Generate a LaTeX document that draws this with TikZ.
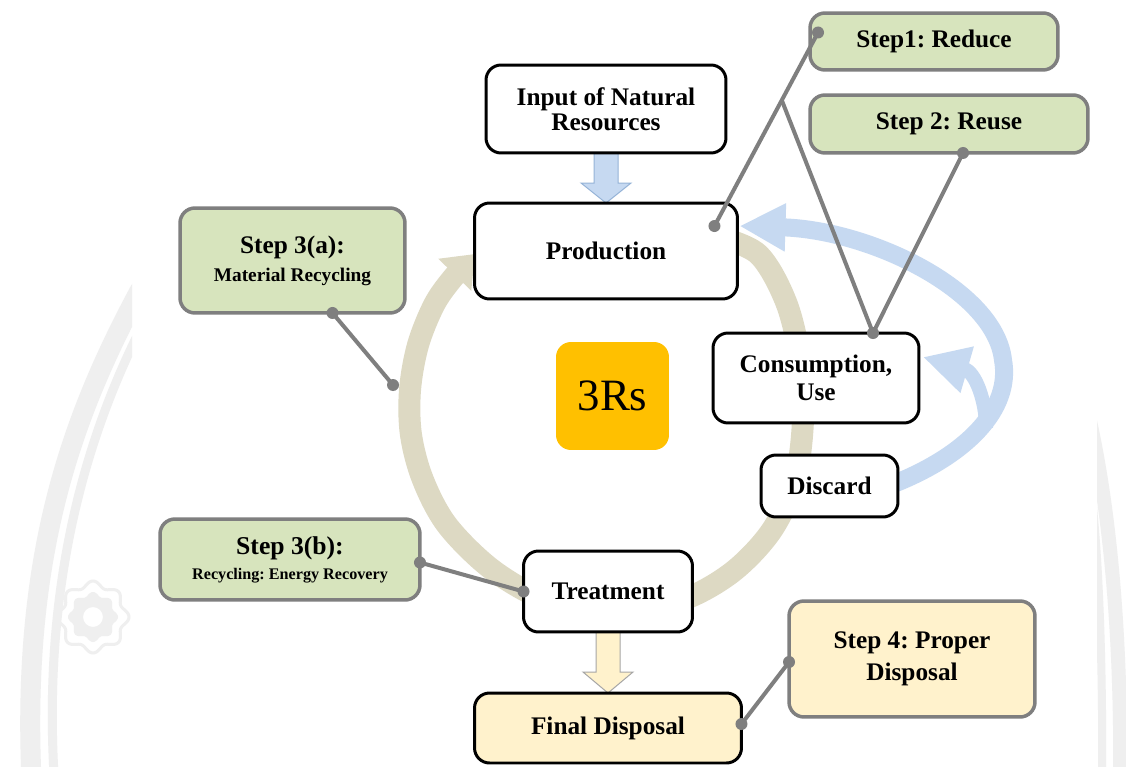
\documentclass[tikz,border=0pt]{standalone}
\usepackage{fontspec}
\setmainfont{Liberation Serif}
\frenchspacing
\usetikzlibrary{arrows.meta,calc}
\pgfdeclarelayer{background}
\pgfsetlayers{background,main}
\definecolor{wmgray}{HTML}{EFEFEF}
\definecolor{cycletan}{HTML}{DDD9C3}
\definecolor{flowblue}{HTML}{C6D9F1}
\definecolor{flowblueedge}{HTML}{95B3D7}
\definecolor{leafgreen}{HTML}{D7E4BD}
\definecolor{creamfill}{HTML}{FFF2CC}
\definecolor{creamedge}{HTML}{A6A6A6}
\definecolor{slategray}{HTML}{7F7F7F}
\definecolor{amber}{HTML}{FFC000}
\begin{document}
\begin{tikzpicture}[x=0.02cm,y=-0.02cm,
  every node/.style={inner sep=0pt, outer sep=0pt, align=center},
  stage/.style={draw=black, line width=0.06cm, rounded corners=0.3cm, fill=white,
    font=\fontsize{14.4}{16}\selectfont\bfseries},
  stepbox/.style={draw=slategray, line width=0.07cm, rounded corners=0.3cm, fill=leafgreen,
    font=\fontsize{14.4}{16}\selectfont\bfseries},
  link/.style={draw=slategray, line width=0.08cm},
  dot/.style={fill=slategray},
  blockblue/.style={fill=flowblue, draw=flowblueedge, line width=0.02cm},
  blockcream/.style={fill=creamfill, draw=creamedge, line width=0.02cm},
  watermark/.style={draw=wmgray, line cap=round}
]
\useasboundingbox (0,0) rectangle (1126,767);

\begin{pgfonlayer}{background}
\fill[white] (0,0) rectangle (1126,767);
% faint watermark arcs and gear
\begin{scope}
  \clip (0,0) rectangle (132,767);
  \draw[watermark, line width=0.4cm] (140,290) .. controls (70,420) and (20,560) .. (32,790);
  \draw[watermark, line width=0.18cm] (140,330) .. controls (90,430) and (40,580) .. (55,790);
\end{scope}
\begin{scope}
  \clip (1097,0) rectangle (1126,767);
  \draw[watermark, line width=0.28cm] (1085,400) .. controls (1110,500) and (1122,640) .. (1120,790);
  \draw[watermark, line width=0.16cm] (1090,480) .. controls (1100,560) and (1103,680) .. (1102,790);
\end{scope}
\draw[wmgray, line width=0.06cm] plot[domain=0:360, samples=145, smooth]
  ({93+(33+3*cos(8*\x))*cos(\x)}, {617+(33+3*cos(8*\x))*sin(\x)}) -- cycle;
\fill[wmgray, even odd rule] plot[domain=0:360, samples=145, smooth]
  ({93+(23+2*cos(8*\x))*cos(\x)}, {617+(23+2*cos(8*\x))*sin(\x)}) -- cycle
  (93,617) circle (0.2cm);
\end{pgfonlayer}

% process boxes
\node[stage, minimum width=4.8cm, minimum height=1.76cm,
  font=\fontsize{14.4}{14.2}\selectfont\bfseries] (input) at (606,109) {Input of Natural\\Resources};
\node[stage, minimum width=5.26cm, minimum height=1.92cm] (prod) at (606,251) {Production};
\node[stage, minimum width=4.12cm, minimum height=1.8cm,
  font=\fontsize{14.4}{15.9}\selectfont\bfseries] (cons) at (816,378) {Consumption,\\Use};
\node[stage, minimum width=2.74cm, minimum height=1.24cm] (disc) at (829.5,486) {Discard};
\node[stage, minimum width=3.38cm, minimum height=1.62cm] (treat) at (608,591.5) {Treatment};
\node[stage, fill=creamfill, minimum width=5.34cm, minimum height=1.4cm] (final) at (608,728) {Final Disposal};
\node[fill=amber, rounded corners=0.3cm, minimum width=2.26cm, minimum height=2.16cm,
  font=\fontsize{25.5}{30}\selectfont] (core) at (612.5,396) {3Rs};

% step call-outs
\node[stepbox, minimum width=4.96cm, minimum height=1.14cm] (reduce) at (934,41.5) {Step1: Reduce};
\node[stepbox, minimum width=5.56cm, minimum height=1.16cm] (reuse) at (949,124) {Step 2: Reuse};
\node[stepbox, minimum width=4.5cm, minimum height=2.1cm,
  font=\fontsize{14.4}{15.9}\selectfont\bfseries] (recyA) at (292.5,260.5)
  {Step 3(a):\\{\fontsize{11}{15.9}\selectfont Material Recycling}};
\node[stepbox, minimum width=5.2cm, minimum height=1.62cm,
  font=\fontsize{14.6}{14.2}\selectfont\bfseries] (recyB) at (290,559.5)
  {Step 3(b):\\{\fontsize{9.2}{14.2}\selectfont Recycling: Energy Recovery}};
\node[stepbox, fill=creamfill, minimum width=4.92cm, minimum height=2.32cm,
  font=\fontsize{14.4}{18.1}\selectfont\bfseries] (dispose) at (912,659) {Step 4: Proper\\Disposal};

\begin{pgfonlayer}{background}
  % the 3R cycle
  \draw[cycletan, line width=0.44cm, -{Triangle[length=0.58cm,width=0.88cm]}]
    plot[smooth, tension=0.55] coordinates {(715,236) (758,254) (786,302) (800,360) (803,420)
      (795,480) (772,530) (735,570) (690,597) (640,610) (590,612) (540,598) (490,568)
      (447,525) (423,480) (411,435) (410,390) (418,345) (434,305) (452,279) (475,254)};
  % return flows
  \draw[flowblue, line width=0.36cm, -{Triangle[length=0.92cm,width=0.9cm]}]
    ([shift={(-2,-3)}]disc.east) .. controls (965,455) and (1012,410) .. (1003,360)
    .. controls (995,290) and (870,230) .. ([shift={(2,23)}]prod.north east);
  \draw[flowblue, line width=0.28cm, -{Triangle[length=0.92cm,width=0.9cm]}]
    (986,428) .. controls (986,400) and (975,372) .. ([shift={(4,-21)}]cons.east);
  % block arrows
  \draw[blockblue] ([shift={(-12,0)}]input.south) -- ([shift={(-12,-20)}]prod.north)
    -- ([shift={(-25,-20)}]prod.north) -- (prod.north) -- ([shift={(25,-20)}]prod.north)
    -- ([shift={(12,-20)}]prod.north) -- ([shift={(12,0)}]input.south) -- cycle;
  \draw[blockcream] ([shift={(-12,0)}]treat.south) -- ([shift={(-12,-21)}]final.north)
    -- ([shift={(-25,-21)}]final.north) -- (final.north) -- ([shift={(25,-21)}]final.north)
    -- ([shift={(12,-21)}]final.north) -- ([shift={(12,0)}]treat.south) -- cycle;
\end{pgfonlayer}

% call-out leaders
\coordinate (rA) at ([shift={(8,-9)}]reduce.west);
\coordinate (pA) at ([shift={(-23,23)}]prod.north east);
\coordinate (fork) at ($(rA)!0.35!(pA)$);
\coordinate (cA) at ([shift={(57,0)}]cons.north);
\coordinate (uA) at ([shift={(14,0)}]reuse.south);
\coordinate (aA) at ([shift={(40,0)}]recyA.south);
\coordinate (loopA) at (393,385);
\coordinate (bA) at ([shift={(0,3)}]recyB.east);
\coordinate (tA) at (treat.west);
\coordinate (dA) at ([shift={(0,3)}]dispose.west);
\coordinate (fA) at ([shift={(0,-4)}]final.east);
\draw[link] (rA) -- (pA);
\draw[link] (fork) -- (cA);
\draw[link] (uA) -- (cA);
\draw[link] (aA) -- (loopA);
\draw[link] (bA) -- (tA);
\draw[link] (dA) -- (fA);
\foreach \p in {rA,pA,cA,uA,aA,loopA,bA,tA,dA,fA}
  \fill[dot] (\p) circle (0.12cm);
\end{tikzpicture}
\end{document}
